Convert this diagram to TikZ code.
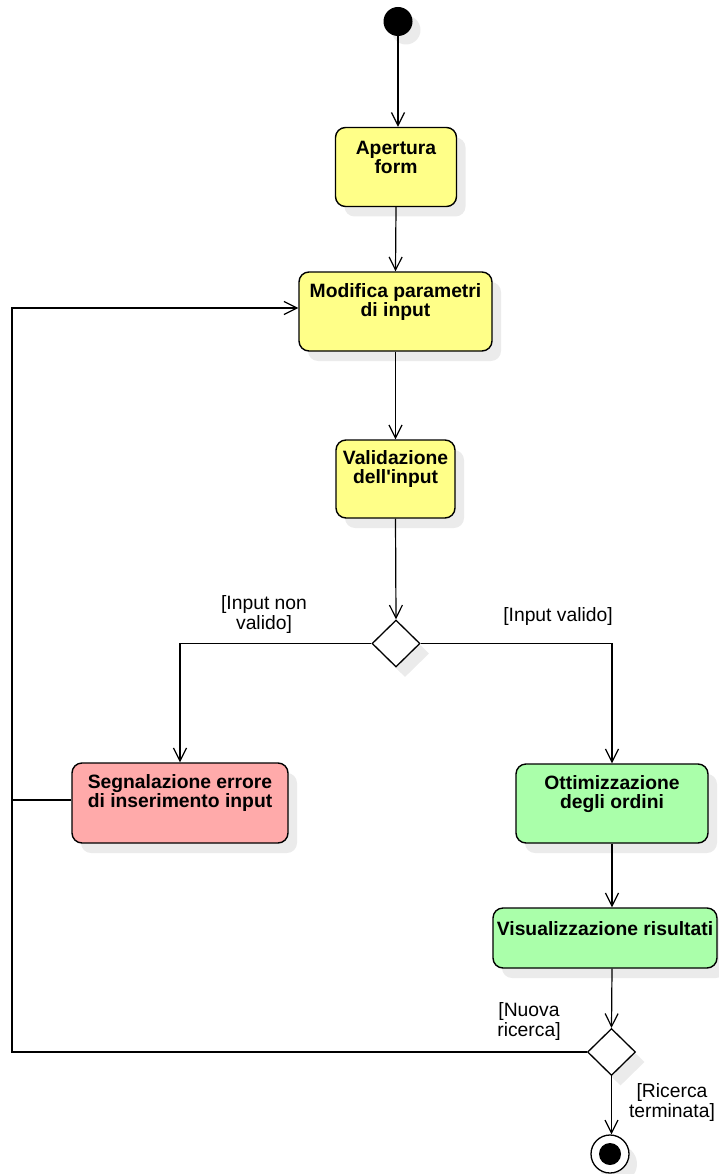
\documentclass[tikz,border=0pt]{standalone}
\usepackage{fontspec}
\setmainfont{Liberation Sans}[Ligatures=TeXOff]
\usetikzlibrary{arrows.meta,shapes.geometric}
\definecolor{yel}{HTML}{FFFF88}
\definecolor{pnk}{HTML}{FFAAAA}
\definecolor{grn}{HTML}{AAFFAA}
\definecolor{shadowgray}{RGB}{235,235,235}
\tikzset{
  act/.style={draw=black, line width=1.4pt, rounded corners=10pt, inner sep=0pt},
  shad/.style={fill=shadowgray, draw=none, rounded corners=10pt, inner sep=0pt},
  btxt/.style={align=center, inner sep=0pt, font=\fontsize{19.3}{19}\selectfont\bfseries},
  gtxt/.style={align=center, inner sep=0pt, font=\fontsize{19.3}{20}\selectfont},
  dec/.style={diamond, draw=black, fill=white, line width=1.3pt, minimum width=48pt, minimum height=47pt, inner sep=0pt},
  decshad/.style={diamond, fill=shadowgray, draw=none, minimum width=48pt, minimum height=47pt, inner sep=0pt},
  flow/.style={line width=1.2pt, -{Straight Barb[length=13pt,width=13pt,line width=1.2pt]}},
  plain/.style={line width=1.2pt}
}
\newcommand\actbox[7]{%
  \node[shad, minimum width=#4pt, minimum height=#5pt] (#1-s) at (#2+9,#3+10) {};
  \node[act, fill=#6, minimum width=#4pt, minimum height=#5pt] (#1) at (#2,#3) {};
  \node[btxt] (#1-t) at (#2,#3-9.5) {#7};
}
\begin{document}
\begin{tikzpicture}[x=1pt,y=-1pt]
\path[use as bounding box] (0,0) rectangle (718,1174);
% start
\node[circle, fill=shadowgray, minimum size=29pt, inner sep=0pt] (start-s) at (406,30) {};
\node[circle, fill=black, minimum size=29pt, inner sep=0pt] (start) at (398,21.5) {};
% activities
\actbox{apertura}{396}{167}{121}{79}{yel}{Apertura\\form}
\actbox{modifica}{395.5}{311.5}{193}{79}{yel}{Modifica parametri\\di input}
\actbox{validazione}{395.5}{479}{119}{78}{yel}{Validazione\\dell'input}
\actbox{segnalazione}{180}{803}{216}{80}{pnk}{Segnalazione errore\\di inserimento input}
\actbox{ottimizzazione}{612}{803.5}{192}{79}{grn}{Ottimizzazione\\degli ordini}
\actbox{visualizzazione}{605}{938}{224}{60}{grn}{Visualizzazione risultati}
% decisions
\node[decshad] (d1-s) at (405,653.5) {};
\node[dec] (d1) at (396,643.5) {};
\node[decshad] (d2-s) at (620.5,1062) {};
\node[dec] (d2) at (611.5,1052) {};
% end
\node[circle, fill=shadowgray, minimum size=38pt, inner sep=0pt] (end-s) at (618,1164) {};
\node[circle, draw=black, fill=white, line width=1.3pt, minimum size=38pt, inner sep=0pt] (endc) at (610,1154) {};
\node[circle, fill=black, minimum size=22pt, inner sep=0pt] (endd) at (endc) {};
% coordinates
\coordinate (loopbot) at (12,1052);
\coordinate (looptop) at (12,308);
\coordinate (segjoin) at (12,800);
% connectors
\draw[flow] (start.south) -- (start.south |- apertura.north);
\draw[flow] (apertura.south) -- (modifica.north);
\draw[flow] (modifica.south) -- (validazione.north);
\draw[flow] (validazione.south) -- (d1.north);
\draw[flow] (d1.west) -| (segnalazione.north);
\draw[flow] (d1.east) -| (ottimizzazione.north);
\draw[flow] (ottimizzazione.south) -- (ottimizzazione.south |- visualizzazione.north);
\draw[flow] (ottimizzazione.south |- visualizzazione.south) -- (d2.north);
\draw[flow] (d2.west) -- (loopbot) -- (looptop) -- (looptop -| modifica.west);
\draw[plain] (segjoin -| segnalazione.west) -- (segjoin);
\draw[flow] (d2.south) -- (d2.south |- endc.north);
% guards
\node[gtxt] (g1) at (264,615) {[Input non\\valido]};
\node[gtxt] (g2) at (558,617) {[Input valido]};
\node[gtxt] (g3) at (529,1021.5) {[Nuova\\ricerca]};
\node[gtxt] (g4) at (672,1102) {[Ricerca\\terminata]};
\end{tikzpicture}
\end{document}
